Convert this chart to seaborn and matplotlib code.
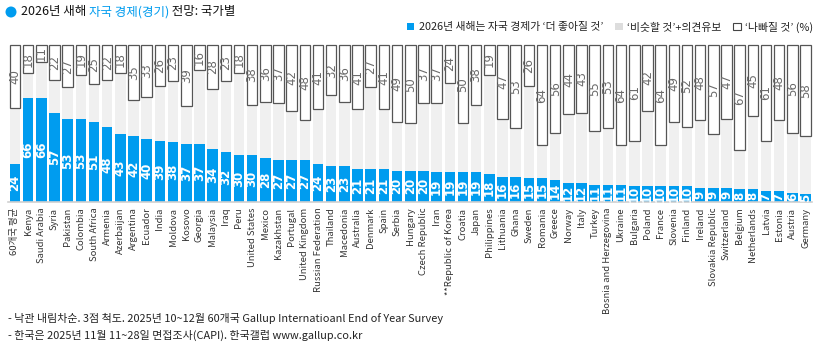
import matplotlib
matplotlib.use("Agg")
import matplotlib.pyplot as plt
from matplotlib.patches import Patch, Ellipse
import seaborn as sns
import pandas as pd
import numpy as np

countries = ["60개국 평균", "Kenya", "Saudi Arabia", "Syria", "Pakistan", "Colombia", "South Africa",
             "Armenia", "Azerbaijan", "Argentina", "Ecuador", "India", "Moldova", "Kosovo", "Georgia",
             "Malaysia", "Iraq", "Peru", "United States", "Mexico", "Kazakhstan", "Portugal",
             "United Kingdom", "Russian Federation", "Thailand", "Macedonia", "Australia", "Denmark",
             "Spain", "Serbia", "Hungary", "Czech Republic", "Iran", "**Republic of Korea", "Croatia",
             "Japan", "Philippines", "Lithuania", "Ghana", "Sweden", "Romania", "Greece", "Norway",
             "Italy", "Turkey", "Bosnia and Herzegovina", "Ukraine", "Bulgaria", "Poland", "France",
             "Slovenia", "Finland", "Ireland", "Slovakia Republic", "Switzerland", "Belgium",
             "Netherlands", "Latvia", "Estonia", "Austria", "Germany"]
better = [24, 66, 66, 57, 53, 53, 51, 48, 43, 42, 40, 39, 38, 37, 37, 34, 32, 30, 30, 28, 27, 27,
          27, 24, 23, 23, 21, 21, 21, 20, 20, 20, 19, 19, 19, 19, 18, 16, 16, 15, 15, 14, 12, 12,
          11, 11, 11, 10, 10, 10, 10, 10, 9, 9, 9, 8, 8, 7, 7, 6, 5]
worse = [40, 18, 11, 22, 27, 19, 25, 22, 18, 35, 33, 26, 23, 39, 16, 28, 23, 18, 38, 36, 37, 42,
         48, 41, 32, 36, 41, 27, 41, 49, 50, 37, 37, 24, 50, 38, 19, 47, 53, 26, 64, 56, 44, 43,
         55, 53, 64, 61, 42, 64, 49, 52, 48, 57, 47, 67, 45, 61, 48, 56, 58]

title_parts = ["2026년 새해 ", "자국 경제(경기)", " 전망: 국가별"]
legend_labels = ["2026년 새해는 자국 경제가 ‘더 좋아질 것’", "‘비슷할 것’+의견유보", "‘나빠질 것’ (%)"]
notes = ["- 낙관 내림차순. 3점 척도. 2025년 10~12월 60개국 Gallup Internatioanl End of Year Survey",
         "- 한국은 2025년 11월 11~28일 면접조사(CAPI). 한국갤럽 www.gallup.co.kr"]

BLUE = "#009CEF"
GRAY = "#F0F0F0"
EDGE = "#555555"

df = pd.DataFrame({"country": countries, "better": better, "worse": worse})
df["notworse"] = 100 - df["worse"]

sns.set_theme(style="white")
plt.rcParams["font.family"] = ["Noto Sans CJK KR", "DejaVu Sans"]

fig = plt.figure(figsize=(8.15, 3.44), dpi=100)
ax = fig.add_axes([0.0103, 0.4128, 0.9862, 0.4564])

sns.barplot(data=df, x="country", y="notworse", color=GRAY, saturation=1, width=0.8, ax=ax)
sns.barplot(data=df, x="country", y="better", color=BLUE, saturation=1, width=0.8, ax=ax)
for p in ax.patches:
    p.set_edgecolor("none")
    p.set_linewidth(0)
n = len(df)
xs = np.arange(n)
ax.bar(xs, df["worse"], bottom=df["notworse"], width=0.8, facecolor="white",
       edgecolor=EDGE, linewidth=0.9, clip_on=False, zorder=3)

for i, row in df.iterrows():
    ax.text(i, row["better"] / 2, str(row["better"]), rotation=90, ha="center", va="center",
            color="white", fontsize=8.5, fontweight="bold", family="DejaVu Sans", zorder=4)
    ax.text(i, 100 - row["worse"] / 2, str(row["worse"]), rotation=90, ha="center", va="center",
            color="#6A6A6A", fontsize=8.5, family="DejaVu Sans", zorder=4)

ax.set_xlim(-0.5, n - 0.5)
ax.set_ylim(0, 100)
ax.set_xlabel("")
ax.set_ylabel("")
ax.set_yticks([])
ax.set_xticks(xs)
ax.set_xticklabels(countries, rotation=90, fontsize=6.8, color="#333333")
ax.tick_params(axis="x", length=0, pad=4)
for s in ["left", "right", "top"]:
    ax.spines[s].set_visible(False)
ax.spines["bottom"].set_color("#D0D0D0")
ax.spines["bottom"].set_linewidth(1.2)

# title
fig.patches.append(Ellipse((11 / 815, 1 - 12 / 344), 11 / 815, 11 / 344, transform=fig.transFigure,
                           facecolor=BLUE, edgecolor="none"))
t = fig.text(21 / 815, 1 - 12 / 344, title_parts[0], fontsize=9, va="center", ha="left", color="#111111")
fig.canvas.draw()
r = fig.canvas.get_renderer()
bb = t.get_window_extent(r)
t2 = fig.text(bb.x1 / 815, 1 - 12 / 344, title_parts[1], fontsize=9, va="center", ha="left", color=BLUE)
bb2 = t2.get_window_extent(r)
fig.text(bb2.x1 / 815, 1 - 12 / 344, title_parts[2], fontsize=9, va="center", ha="left", color="#111111")

# legend
handles = [Patch(facecolor=BLUE, edgecolor="none"),
           Patch(facecolor="#DDDDDD", edgecolor="none"),
           Patch(facecolor="white", edgecolor="#444444", linewidth=0.8)]
leg = fig.legend(handles, legend_labels, loc="center right", bbox_to_anchor=(0.998, 1 - 27 / 344),
                 ncol=3, frameon=False, fontsize=7.8, handlelength=0.7, handleheight=0.7,
                 handletextpad=0.4, columnspacing=1.1, borderaxespad=0, borderpad=0)
for txt in leg.get_texts():
    txt.set_color("#222222")

for k, note in enumerate(notes):
    fig.text(8 / 815, 1 - (318 + 17 * k) / 344, note, fontsize=7.9, va="center", ha="left", color="#222222")

fig.savefig("out.png", dpi=100)
